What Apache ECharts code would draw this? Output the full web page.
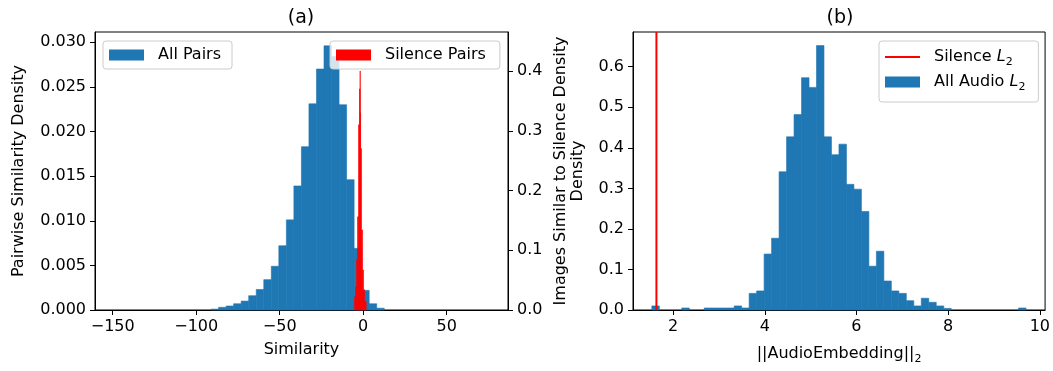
<!DOCTYPE html>
<html>
<head>
<meta charset="utf-8">
<script src="https://cdn.jsdelivr.net/npm/echarts@6/dist/echarts.min.js"></script>
<style>
  html, body { margin: 0; padding: 0; background: #fff; }
  #chart { width: 1053px; height: 371px; }
</style>
</head>
<body>
<div id="chart"></div>
<script>
// ---- (a) pairwise similarity: 50 equal-width bins over simRange ----
const simRange = [-149.7, 75.7];
const simDensity = [
  0, 0, 0, 0, 0, 0, 0, 0, 0, 0, 0, 0, 0,
  0.0001, 0.0003, 0.00045, 0.0007, 0.001, 0.0016, 0.0023, 0.0034, 0.0049,
  0.0072, 0.0101, 0.0139, 0.0183, 0.0231, 0.0270, 0.0296, 0.0284, 0.0230,
  0.0146, 0.0069, 0.0022, 0.0007, 0.0002,
  0, 0, 0, 0, 0, 0, 0, 0, 0, 0, 0, 0, 0, 0
];

// similarity of images to silence (right-hand axis of panel a)
const silenceEdges = [-5.2, -4.6, -4.0, -3.4, -2.8, -2.2, -1.9, -1.75, -1.6, -1.0, -0.4, 0.2, 0.8, 1.8];
const silenceDensity = [0.022, 0.039, 0.084, 0.156, 0.31, 0.37, 0.40, 0.33, 0.27, 0.134, 0.067, 0.034, 0.014];

// ---- (b) L2 norm of audio embeddings: 50 equal-width bins over normRange ----
const normRange = [1.536, 9.70];
const normDensity = [
  0.01, 0, 0, 0, 0.005, 0, 0, 0.005, 0.005, 0.005,
  0.005, 0.01, 0.005, 0.041, 0.047, 0.138, 0.177, 0.341, 0.427, 0.482,
  0.573, 0.549, 0.652, 0.427, 0.383, 0.409, 0.310, 0.298, 0.243, 0.108,
  0.145, 0.0715, 0.047, 0.041, 0.023, 0.01, 0.029, 0.019, 0.01, 0.004,
  0, 0, 0, 0, 0, 0, 0, 0, 0, 0.005
];
const silenceNorm = 1.636;

// tick labels
const simTicks = [-150, -100, -50, 0, 50];
const simDensityTicks = [0, 0.005, 0.010, 0.015, 0.020, 0.025, 0.030];
const silenceTicks = [0, 0.1, 0.2, 0.3, 0.4];
const normTicks = [2, 4, 6, 8, 10];
const normDensityTicks = [0, 0.1, 0.2, 0.3, 0.4, 0.5, 0.6];

const FONT = 'DejaVu Sans';
const BLUE = '#1f77b4';
const RED = '#ff0000';
const TICK_FS = 16;
const LABEL_FS = 16;

// [left edge, right edge, density] rows for a custom histogram series
function equalBins(range, dens) {
  const w = (range[1] - range[0]) / dens.length;
  return dens.map((d, i) => [range[0] + i * w, range[0] + (i + 1) * w, d]);
}
function edgeBins(edges, dens) {
  return dens.map((d, i) => [edges[i], edges[i + 1], d]);
}

function histItem(params, api) {
  const y = api.value(2);
  if (!(y > 0)) return null;
  const p0 = api.coord([api.value(0), y]);
  const p1 = api.coord([api.value(1), 0]);
  const c = api.visual('color');
  return {
    type: 'rect',
    shape: { x: p0[0], y: p0[1], width: p1[0] - p0[0], height: p1[1] - p0[1] },
    // thin same-colour stroke closes the antialiasing seams between adjacent bins
    style: { fill: c, stroke: c, lineWidth: 0.6 }
  };
}

const minus = v => String(v).replace('-', '\u2212');

const subRich = {
  t: { fontFamily: FONT, fontSize: LABEL_FS, color: '#000', lineHeight: 22 },
  i: { fontFamily: FONT, fontSize: LABEL_FS, fontStyle: 'italic', color: '#000', lineHeight: 22 },
  s: { fontFamily: FONT, fontSize: 11, color: '#000', lineHeight: 11, verticalAlign: 'bottom' }
};

function xAxisCfg(grid, min, max, ticks, name, nameGap) {
  return {
    type: 'value', gridIndex: grid, min, max,
    axisLine: { show: true, onZero: false, lineStyle: { color: '#000', width: 1 } },
    axisTick: { show: true, inside: false, length: 5, customValues: ticks, lineStyle: { color: '#000', width: 1 } },
    axisLabel: { customValues: ticks, formatter: minus, margin: 9, fontFamily: FONT, fontSize: TICK_FS, color: '#000',
                 showMinLabel: true, showMaxLabel: true, hideOverlap: false },
    splitLine: { show: false },
    name, nameLocation: 'middle', nameGap,
    nameTextStyle: { fontFamily: FONT, fontSize: LABEL_FS, color: '#000', rich: subRich }
  };
}

function yAxisCfg(grid, pos, max, ticks, digits, name, nameGap) {
  return {
    type: 'value', gridIndex: grid, position: pos, min: 0, max,
    axisLine: { show: true, onZero: false, lineStyle: { color: '#000', width: 1 } },
    axisTick: { show: true, inside: false, length: 5, customValues: ticks, lineStyle: { color: '#000', width: 1 } },
    axisLabel: { customValues: ticks, formatter: v => v.toFixed(digits), margin: 9, fontFamily: FONT, fontSize: TICK_FS, color: '#000',
                 showMinLabel: true, showMaxLabel: true, hideOverlap: false },
    splitLine: { show: false },
    name, nameLocation: 'middle', nameGap, nameRotate: 90,
    nameTextStyle: { fontFamily: FONT, fontSize: LABEL_FS, color: '#000' }
  };
}

const legendText = { fontFamily: FONT, fontSize: LABEL_FS, color: '#000', lineHeight: 18, padding: [0, 0, 0, 9] };
const legendBox = {
  orient: 'horizontal', selectedMode: false,
  backgroundColor: 'rgba(255,255,255,0.8)', borderColor: '#cccccc', borderWidth: 1, borderRadius: 3,
  itemWidth: 35, itemHeight: 11, itemGap: 10
};

const chart = echarts.init(document.getElementById('chart'), null, { renderer: 'canvas' });

chart.setOption({
  animation: false,
  backgroundColor: '#fff',
  textStyle: { fontFamily: FONT },
  graphic: [
    { type: 'text', x: 301, y: 18, style: { text: '(a)', align: 'center', verticalAlign: 'middle', fontFamily: FONT, fontSize: 19, fill: '#000' } },
    { type: 'text', x: 840, y: 18, style: { text: '(b)', align: 'center', verticalAlign: 'middle', fontFamily: FONT, fontSize: 19, fill: '#000' } }
  ],
  grid: [
    { left: 95, top: 32, width: 413, height: 278, show: true, borderColor: '#000', borderWidth: 1, backgroundColor: 'transparent' },
    { left: 633, top: 32, width: 414, height: 278, show: true, borderColor: '#000', borderWidth: 1, backgroundColor: 'transparent' }
  ],
  xAxis: [
    xAxisCfg(0, -160.6, 86.7, simTicks, 'Similarity', 32),
    xAxisCfg(1, 1.125, 10.115, normTicks, '{t|||AudioEmbedding||}{s|2}', 33)
  ],
  yAxis: [
    yAxisCfg(0, 'left', 0.03115, simDensityTicks, 3, 'Pairwise Similarity Density', 68),
    yAxisCfg(0, 'right', 0.4653, silenceTicks, 1, 'Images Similar to Silence Density', 45),
    yAxisCfg(1, 'left', 0.6856, normDensityTicks, 1, 'Density', 47)
  ],
  legend: [
    Object.assign({}, legendBox, {
      left: 103, top: 41, padding: [5, 11, 5, 6],
      data: [{ name: 'All Pairs', icon: 'rect' }],
      textStyle: legendText
    }),
    Object.assign({}, legendBox, {
      left: 330, top: 41, padding: [5, 14, 5, 6],
      data: [{ name: 'Silence Pairs', icon: 'rect' }],
      textStyle: legendText
    }),
    Object.assign({}, legendBox, {
      orient: 'vertical', left: 879, top: 41, padding: [8, 13, 9, 6], itemGap: 6,
      symbolKeepAspect: true,
      data: [
        { name: 'Silence L2', icon: 'path://M0,0H35V2H0Z' },
        { name: 'All Audio L2', icon: 'rect' }
      ],
      formatter: n => n === 'Silence L2' ? '{t|Silence }{i|L}{s|2}' : '{t|All Audio }{i|L}{s|2}',
      textStyle: { fontFamily: FONT, fontSize: LABEL_FS, color: '#000', padding: [0, 0, 0, 9], rich: subRich }
    })
  ],
  series: [
    {
      name: 'All Pairs', type: 'custom', xAxisIndex: 0, yAxisIndex: 0,
      renderItem: histItem, encode: { x: [0, 1], y: 2 },
      itemStyle: { color: BLUE }, data: equalBins(simRange, simDensity), z: 2
    },
    {
      name: 'Silence Pairs', type: 'custom', xAxisIndex: 0, yAxisIndex: 1,
      renderItem: histItem, encode: { x: [0, 1], y: 2 },
      itemStyle: { color: RED }, data: edgeBins(silenceEdges, silenceDensity), z: 3
    },
    {
      name: 'All Audio L2', type: 'custom', xAxisIndex: 1, yAxisIndex: 2,
      renderItem: histItem, encode: { x: [0, 1], y: 2 },
      itemStyle: { color: BLUE }, data: equalBins(normRange, normDensity), z: 2
    },
    {
      name: 'Silence L2', type: 'line', xAxisIndex: 1, yAxisIndex: 2,
      symbol: 'none', lineStyle: { color: RED, width: 2 }, itemStyle: { color: RED },
      data: [[silenceNorm, 0], [silenceNorm, 0.6856]], z: 4
    }
  ]
});
</script>
</body>
</html>
